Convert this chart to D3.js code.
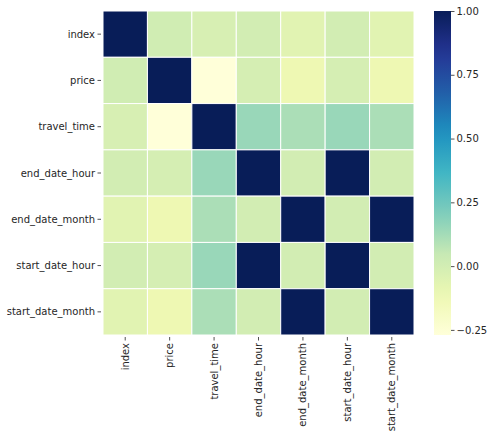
<!DOCTYPE html>
<html><head><meta charset="utf-8">
<script src="https://cdn.jsdelivr.net/npm/d3@7"></script>
<style>body{margin:0;background:#fff;} text{font-family:"DejaVu Sans",sans-serif;}</style>
</head><body><svg id="c" width="495" height="439"></svg>
<script>
const labels = ["index","price","travel_time","end_date_hour","end_date_month","start_date_hour","start_date_month"];
const rowIndex = [1.00, 0.01, -0.02, 0.00, -0.06, 0.00, -0.06];
const rowPrice = [0.01, 1.00, -0.27, -0.01, -0.12, -0.01, -0.12];
const rowTravel = [-0.02, -0.27, 1.00, 0.15, 0.11, 0.15, 0.11];
const rowEndHour = [0.00, -0.01, 0.15, 1.00, 0.00, 1.00, 0.00];
const rowEndMonth = [-0.06, -0.12, 0.11, 0.00, 1.00, 0.00, 1.00];
const rowStartHour = [0.00, -0.01, 0.15, 1.00, 0.00, 1.00, 0.00];
const rowStartMonth = [-0.06, -0.12, 0.11, 0.00, 1.00, 0.00, 1.00];
const matrix = [rowIndex,rowPrice,rowTravel,rowEndHour,rowEndMonth,rowStartHour,rowStartMonth];
const cbTicks = [1.00, 0.75, 0.50, 0.25, 0.00, -0.25];

const svg = d3.select("#c");
const L = 103, R = 414, T = 11, B = 335;
const x = d3.scaleBand().domain(labels).range([L, R]);
const y = d3.scaleBand().domain(labels).range([T, B]);
const vmin = d3.min(matrix.flat()), vmax = d3.max(matrix.flat());
const stops = d3.schemeYlGnBu[9];
const interp = d3.piecewise(d3.interpolateRgb, stops);
const color = d3.scaleSequential(interp).domain([vmin, vmax]);
const txt = "#262626";

const cells = [];
matrix.forEach((row,i)=>row.forEach((v,j)=>cells.push({r:labels[i], c:labels[j], v})));
svg.append("g").selectAll("rect").data(cells).join("rect")
  .attr("x", d=>x(d.c)).attr("y", d=>y(d.r))
  .attr("width", x.bandwidth()).attr("height", y.bandwidth())
  .attr("fill", d=>color(d.v)).attr("stroke","#fff").attr("stroke-width",1);

// y axis
const ya = svg.append("g");
labels.forEach(l=>{
  const cy = y(l)+y.bandwidth()/2;
  ya.append("line").attr("x1",L-5.5).attr("x2",L-2).attr("y1",cy).attr("y2",cy).attr("stroke",txt).attr("stroke-width",0.8);
  ya.append("text").attr("x",L-8).attr("y",cy).attr("dy","0.35em").attr("text-anchor","end")
    .attr("font-size",10).attr("fill",txt).text(l);
});
// x axis
const xa = svg.append("g");
labels.forEach(l=>{
  const cx = x(l)+x.bandwidth()/2;
  xa.append("line").attr("x1",cx).attr("x2",cx).attr("y1",B+2).attr("y2",B+5.5).attr("stroke",txt).attr("stroke-width",0.8);
  xa.append("text").attr("transform",`translate(${cx},${B+8}) rotate(-90)`).attr("dy","0.35em").attr("text-anchor","end")
    .attr("font-size",10).attr("fill",txt).text(l);
});

// colorbar
const cbL = 434, cbW = 17;
const cy = d3.scaleLinear().domain([vmin, vmax]).range([B, T]);
const defs = svg.append("defs");
const grad = defs.append("linearGradient").attr("id","g").attr("x1",0).attr("y1",1).attr("x2",0).attr("y2",0);
d3.range(0,1.0001,0.05).forEach(t=>grad.append("stop").attr("offset",t).attr("stop-color",interp(t)));
svg.append("rect").attr("x",cbL).attr("y",T).attr("width",cbW).attr("height",B-T).attr("fill","url(#g)");
const cba = svg.append("g").attr("transform",`translate(${cbL+cbW},0)`)
  .call(d3.axisRight(cy).tickValues(cbTicks).tickSize(3.5).tickPadding(2).tickFormat(d=>d3.format(".2f")(d).replace("-","\u2212")));
cba.select(".domain").remove();
cba.selectAll("line").attr("stroke",txt).attr("stroke-width",0.8);
cba.selectAll("text").attr("font-size",10).attr("fill",txt).attr("font-family","DejaVu Sans");
</script></body></html>
